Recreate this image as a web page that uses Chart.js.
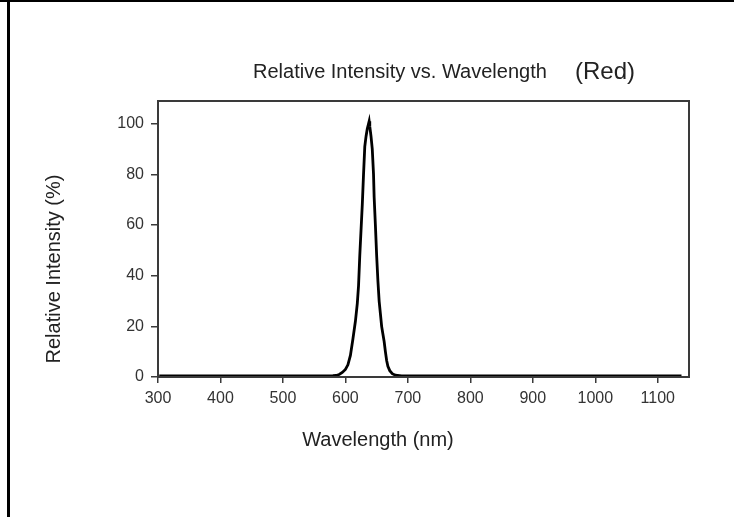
<!DOCTYPE html>
<html><head><meta charset="utf-8">
<script src="https://cdn.jsdelivr.net/npm/chart.js@4.4.1/dist/chart.umd.min.js"></script>
<style>
html,body{margin:0;padding:0;background:#fff;}
#wrap{position:relative;width:734px;height:517px;overflow:hidden;background:#fff;}
#frameL{position:absolute;left:7px;top:0;width:3px;height:517px;background:#000;}
#frameT{position:absolute;left:0;top:0;width:734px;height:2px;background:#000;}
canvas{position:absolute;left:0;top:0;}
</style></head>
<body>
<div id="wrap">
<canvas id="c" width="734" height="517"></canvas>
<div id="frameL"></div><div id="frameT"></div>
</div>
<script>
// ---- data ----
const wavelengths = [302, 350, 400, 450, 500, 540, 570, 580, 585, 590, 595, 600, 604, 608, 612, 616, 619, 621, 623, 625, 627, 629, 631, 633, 635, 637, 638, 639, 641, 643, 645, 646, 648, 650, 652, 654, 656, 658, 660, 662, 664, 666, 668, 671, 675, 680, 690, 700, 750, 800, 900, 1000, 1100, 1138];
const intensity   = [0.4, 0.4, 0.4, 0.4, 0.4, 0.4, 0.4, 0.5, 0.6, 1.0, 1.8, 3.0, 4.8, 8.5, 15, 22, 29, 36, 48, 58, 68, 80, 91, 95, 98, 100, 101, 99, 95, 90, 80, 71, 60, 48, 38, 30, 25, 20, 17, 14, 10, 6.5, 4.2, 2.5, 1.3, 0.7, 0.4, 0.4, 0.4, 0.4, 0.4, 0.4, 0.4, 0.4];
const xTicks = [300, 400, 500, 600, 700, 800, 900, 1000, 1100];
const yTicks = [0, 20, 40, 60, 80, 100];
const xRange = [300, 1150];
const yRange = [0, 109];
const chartTitle = 'Relative Intensity vs. Wavelength';
const chartSubtitle = '(Red)';
const xTitle = 'Wavelength (nm)';
const yTitle = 'Relative Intensity (%)';

const points = wavelengths.map((w, i) => ({x: w, y: intensity[i]}));
const FONT = '"Liberation Sans", Arial, sans-serif';

const deco = {
  id: 'deco',
  afterDraw(chart) {
    const {ctx, chartArea: a} = chart;
    ctx.save();
    ctx.strokeStyle = '#3a3a3a';
    ctx.lineWidth = 2;
    ctx.strokeRect(a.left, a.top, a.right - a.left, a.bottom - a.top);
    ctx.fillStyle = '#222';
    ctx.textBaseline = 'alphabetic';
    ctx.textAlign = 'left';
    ctx.font = '20px ' + FONT;
    ctx.fillText(chartTitle, 253, 78);
    ctx.font = '24px ' + FONT;
    ctx.fillText(chartSubtitle, 575, 79);
    ctx.font = '20px ' + FONT;
    ctx.textAlign = 'center';
    ctx.fillText(xTitle, 378, 446);
    ctx.translate(60, 269);
    ctx.rotate(-Math.PI / 2);
    ctx.fillText(yTitle, 0, 0);
    ctx.restore();
  }
};

new Chart(document.getElementById('c'), {
  type: 'line',
  data: { datasets: [{
    data: points,
    borderColor: '#000',
    borderWidth: 2.8,
    pointRadius: 0,
    tension: 0,
    fill: false
  }]},
  options: {
    responsive: false,
    animation: false,
    events: [],
    layout: { padding: { left: 0, top: 101, right: 45, bottom: 0 } },
    plugins: { legend: {display: false}, tooltip: {enabled: false}, title: {display: false} },
    scales: {
      x: {
        type: 'linear', min: xRange[0], max: xRange[1],
        afterBuildTicks: s => { s.ticks = xTicks.map(v => ({value: v})); },
        afterFit: s => { s.height = 140; },
        grid: { drawOnChartArea: false, drawTicks: true, tickLength: 6, color: '#3a3a3a', lineWidth: 1.5 },
        border: { display: false },
        ticks: { color: '#333', font: { family: FONT, size: 16 }, padding: 6, maxRotation: 0, autoSkip: false,
                 callback: v => String(v) }
      },
      y: {
        min: yRange[0], max: yRange[1],
        afterBuildTicks: s => { s.ticks = yTicks.map(v => ({value: v})); },
        afterFit: s => { s.width = 158; },
        grid: { drawOnChartArea: false, drawTicks: true, tickLength: 7, color: '#3a3a3a', lineWidth: 1.5 },
        border: { display: false },
        ticks: { color: '#333', font: { family: FONT, size: 16 }, padding: 7, autoSkip: false,
                 callback: v => String(v) }
      }
    }
  },
  plugins: [deco]
});
</script>
</body></html>
